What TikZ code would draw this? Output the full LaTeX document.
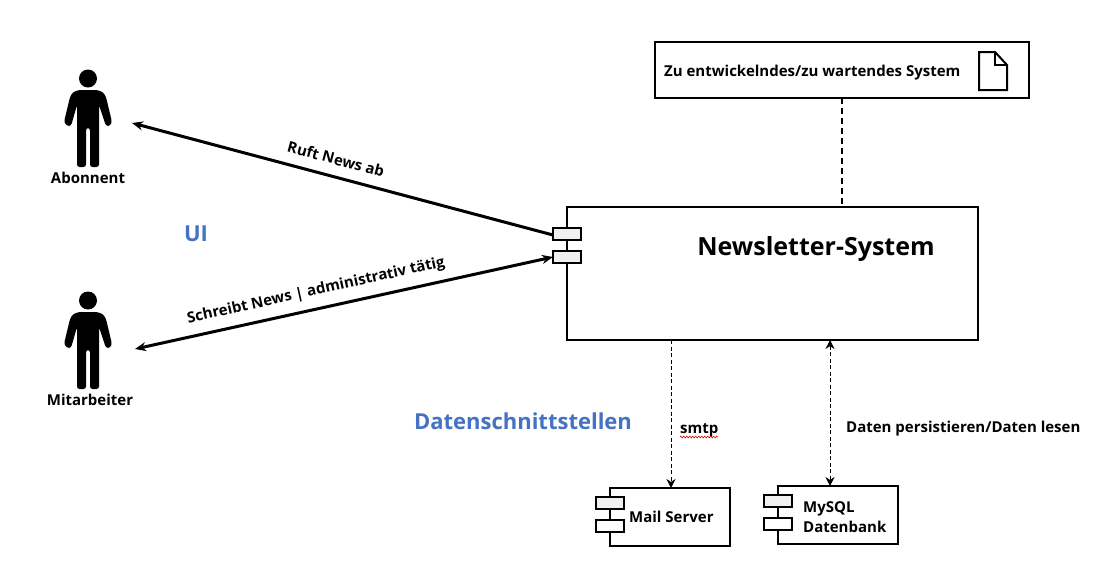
\documentclass[tikz,border=0pt]{standalone}
\usepackage{fontspec}
\setmainfont{Open Sans}
\usetikzlibrary{arrows.meta,decorations.pathmorphing}
\definecolor{uiblue}{HTML}{4472C4}
\definecolor{portfill}{HTML}{F0F0F0}
\tikzset{
  x=1pt,y=-1pt,
  box/.style={draw=black,line width=2pt,fill=white,inner sep=0pt,outer sep=0pt,anchor=north west},
  port/.style={draw=black,line width=2pt,inner sep=0pt,outer sep=0pt,minimum width=28pt,minimum height=12pt},
  lbl/.style={inner sep=0pt,font=\bfseries\fontsize{15}{17}\selectfont,text=black},
  head/.style={inner sep=0pt,font=\bfseries\fontsize{22}{26}\selectfont,text=uiblue},
  strong/.style={line width=3pt,-{Stealth[length=11pt,width=9pt]}},
  strongboth/.style={line width=3pt,{Stealth[length=11pt,width=9pt]}-{Stealth[length=11pt,width=9pt]}},
  thindash/.style={line width=1pt,dash pattern=on 4pt off 2.5pt},
  tip/.style={-{Stealth[length=9pt,width=9pt]}},
  tipboth/.style={{Stealth[length=9pt,width=9pt]}-{Stealth[length=9pt,width=9pt]}},
}
\newcommand{\personshape}[2]{%
  \begin{scope}[shift={(#1,#2)}]
    \fill[black] (88,78.5) circle[radius=9];
    \fill[black,rounded corners=2.5pt]
      (79,90) -- (97,90) -- (103,92) -- (106,97) -- (112,122) -- (110,126) -- (106,126)
      -- (99,105) -- (99,167) -- (90,167) -- (90,128) -- (86,128) -- (86,167) -- (77,167)
      -- (77,105) -- (71,126) -- (67,126) -- (64,122) -- (70,97) -- (73,92) -- cycle;
  \end{scope}}
\begin{document}
\begin{tikzpicture}
\useasboundingbox (0,0) rectangle (1105,582);
\fill[white] (0,0) rectangle (1105,582);

\personshape{0}{0}
\personshape{0}{222}
\node[lbl] (abo) at (88,178) {Abonnent};
\node[lbl] (mit) at (90,400) {Mitarbeiter};
\coordinate (aboA) at (132,123);
\coordinate (mitA) at (135,349);

\node[box,minimum width=374pt,minimum height=56pt] (sys) at (655,42) {};
\node[lbl,anchor=west] (syst) at (664,72.5) {Zu entwickelndes/zu wartendes System};
\draw[line width=2pt,line join=miter] (979,52) -- (995,52) -- (1007,65) -- (1007,90) -- (979,90) -- cycle;
\draw[line width=2pt] (995,52) -- (995,65) -- (1007,65);

\node[box,minimum width=411pt,minimum height=133pt] (main) at (567,207) {};
\node[inner sep=0pt,font=\bfseries\fontsize{25}{30}\selectfont] (maint) at (816,249) {Newsletter-System};
\node[port,fill=portfill] (p1) at (567,234) {};
\node[port,fill=portfill] (p2) at (567,257) {};

\node[box,minimum width=120pt,minimum height=58pt] (mail) at (610,488) {};
\node[port,fill=portfill] (m1) at (610,503) {};
\node[port,fill=white] (m2) at (610,526) {};
\node[lbl,anchor=west] (mailt) at (629,517) {Mail Server};

\node[box,minimum width=120pt,minimum height=58pt] (db) at (778,486) {};
\node[port,fill=portfill] (d1) at (778,501) {};
\node[port,fill=white] (d2) at (778,524) {};
\node[lbl,anchor=west,align=left] (dbt1) at (803,508.5) {MySQL};
\node[lbl,anchor=west,align=left] (dbt2) at (803,527) {Datenbank};

\draw[strong] (p1.west) ++(0,1) -- (aboA);
\draw[strongboth] (mitA) -- (p2.west);
\draw[line width=2pt,dash pattern=on 6pt off 4pt] (sys.south -| 842,0) -- (main.north -| 842,0);
\draw[thindash,tip] (main.south -| 671,0) -- (mail.north -| 671,0);
\draw[thindash,tipboth] (main.south -| 830,0) -- (db.north -| 830,0);

\node[lbl,rotate=-15] (l1) at (336,159) {Ruft News ab};
\node[lbl,rotate=12.5] (l2) at (316,291) {Schreibt News | administrativ tätig};
\node[lbl,anchor=west] (l3) at (680,430) {smtp};
\node[lbl,anchor=west] (l4) at (846,429) {Daten persistieren/Daten lesen};
\node[head] (ui) at (196,234) {UI};
\node[head] (ds) at (523,421) {Datenschnittstellen};

\draw[red!85!black,line width=.6pt,decorate,decoration={zigzag,segment length=3pt,amplitude=.9pt}] (680,437) -- (718,437);
\end{tikzpicture}
\end{document}
